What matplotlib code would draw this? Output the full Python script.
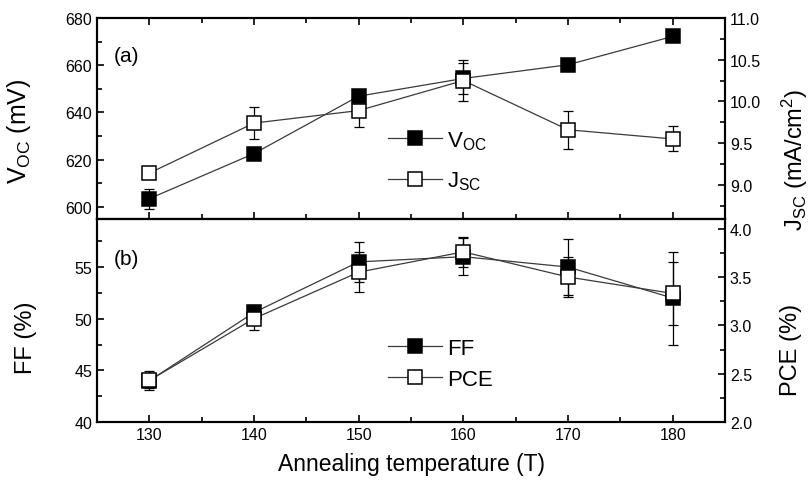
import matplotlib
matplotlib.use("Agg")
import matplotlib.pyplot as plt
from matplotlib.ticker import MultipleLocator

plt.rcParams['font.family'] = ['Liberation Sans', 'DejaVu Sans']
plt.rcParams['mathtext.fontset'] = 'custom'
plt.rcParams['mathtext.rm'] = 'Liberation Sans'
plt.rcParams['mathtext.it'] = 'Liberation Sans'

# ---- data ----
temps = [130, 140, 150, 160, 170, 180]
voc = [603.5, 622.6, 646.9, 654.4, 660.2, 672.2]
voc_err = [4.3, 1.0, 1.0, 6.4, 1.0, 1.5]
jsc = [9.14, 9.74, 9.89, 10.25, 9.66, 9.55]
jsc_err = [0.06, 0.195, 0.20, 0.245, 0.23, 0.15]
ff = [44.0, 50.6, 55.5, 56.0, 55.0, 52.0]
ff_err = [0.9, 0.7, 1.9, 1.8, 2.7, 4.5]
pce = [2.43, 3.07, 3.55, 3.76, 3.50, 3.33]
pce_err = [0.08, 0.12, 0.21, 0.155, 0.21, 0.33]

fig = plt.figure(figsize=(8.09, 4.81), dpi=100)
L, R = 97 / 809, 725 / 809
ax1 = fig.add_axes([L, 1 - 220 / 481, R - L, 201 / 481])
ax3 = fig.add_axes([L, 1 - 423 / 481, R - L, 203 / 481])
ax2 = ax1.twinx()
ax4 = ax3.twinx()

lc = '#3a3a3a'
ms = 10.5
lw = 0.9

def series(ax, y, yerr, filled):
    ax.errorbar(temps, y, yerr=yerr, fmt='none', ecolor='black', elinewidth=0.9,
                capsize=3.5, capthick=0.9, zorder=2)
    ln, = ax.plot(temps, y, color=lc, lw=lw, marker='s', ms=ms,
                  mfc='black' if filled else 'white', mec='black', mew=1.1, zorder=3)
    return ln

h1 = series(ax1, voc, voc_err, True)
h2 = series(ax2, jsc, jsc_err, False)
h3 = series(ax3, ff, ff_err, True)
h4 = series(ax4, pce, pce_err, False)

for ax in (ax1, ax2, ax3, ax4):
    ax.set_xlim(125, 185)
    for s in ax.spines.values():
        s.set_linewidth(1.5)
    ax.xaxis.set_major_locator(MultipleLocator(10))
    ax.xaxis.set_minor_locator(MultipleLocator(5))
    ax.tick_params(which='both', direction='in', width=1.2, labelsize=11.5)
    ax.tick_params(which='major', length=5)
    ax.tick_params(which='minor', length=3.5)

ax1.set_ylim(594.9, 680)
ax2.set_ylim(8.59, 11.0)
ax3.set_ylim(40, 59.65)
ax4.set_ylim(2.0, 4.1)

ax1.yaxis.set_major_locator(MultipleLocator(20))
ax1.yaxis.set_minor_locator(MultipleLocator(10))
ax2.yaxis.set_major_locator(MultipleLocator(0.5))
ax2.yaxis.set_minor_locator(MultipleLocator(0.25))
ax3.yaxis.set_major_locator(MultipleLocator(5))
ax3.yaxis.set_minor_locator(MultipleLocator(2.5))
ax4.yaxis.set_major_locator(MultipleLocator(0.5))
ax4.yaxis.set_minor_locator(MultipleLocator(0.25))

ax2.yaxis.set_major_formatter(plt.FormatStrFormatter('%.1f'))
ax4.yaxis.set_major_formatter(plt.FormatStrFormatter('%.1f'))

ax1.tick_params(axis='x', which='both', top=True, bottom=True, labelbottom=False)
ax2.tick_params(axis='x', which='both', top=False, bottom=False, labelbottom=False)
ax3.tick_params(axis='x', which='both', top=False, bottom=True)
ax4.tick_params(axis='x', which='both', top=False, bottom=False, labelbottom=False)
ax1.set_xticklabels([])
ax3.set_xticks(temps)
ax3.set_xticklabels([str(t) for t in temps])

ax1.set_ylabel(r'V$_\mathregular{OC}$ (mV)', fontsize=18)
ax2.set_ylabel(r'J$_\mathregular{SC}$ (mA/cm$^\mathregular{2}$)', fontsize=17)
ax3.set_ylabel('FF (%)', fontsize=17)
ax4.set_ylabel('PCE (%)', fontsize=17)
ax1.yaxis.set_label_coords(-0.102, 0.44)
ax3.yaxis.set_label_coords(-0.096, 0.42)
ax2.yaxis.set_label_coords(1.088, 0.30)
ax4.yaxis.set_label_coords(1.088, 0.36)
ax3.set_xlabel('Annealing temperature (T)', fontsize=16.5, labelpad=7)

ax1.text(0.026, 0.785, '(a)', transform=ax1.transAxes, fontsize=15)
ax3.text(0.026, 0.78, '(b)', transform=ax3.transAxes, fontsize=15)

leg1 = ax2.legend([h1, h2], [r'V$_\mathregular{OC}$', r'J$_\mathregular{SC}$'],
                  loc='center left', bbox_to_anchor=(0.45, 0.29), frameon=False,
                  fontsize=16, handlelength=2.4, handletextpad=0.25,
                  labelspacing=0.8, borderaxespad=0)
leg2 = ax4.legend([h3, h4], ['FF', 'PCE'],
                  loc='center left', bbox_to_anchor=(0.45, 0.285), frameon=False,
                  fontsize=16, handlelength=2.4, handletextpad=0.25,
                  labelspacing=0.45, borderaxespad=0)

fig.savefig('out.png', dpi=100)
